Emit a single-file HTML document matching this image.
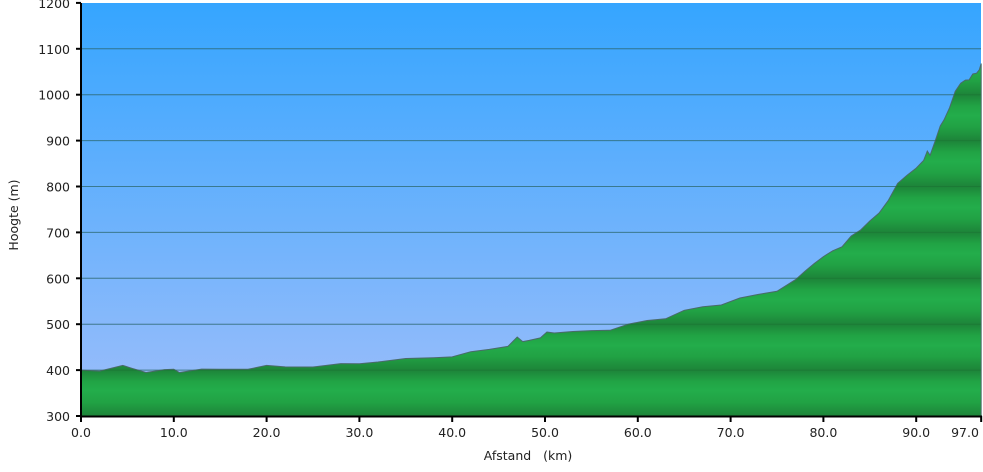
<!DOCTYPE html><html><head><meta charset="utf-8"><style>
body{margin:0;background:#fff;width:983px;height:468px;overflow:hidden;font-family:"DejaVu Sans","Liberation Sans",sans-serif}
svg text{font-family:"DejaVu Sans","Liberation Sans",sans-serif;font-size:12.5px;fill:#222}
</style></head><body>
<svg id="s" width="983" height="468" viewBox="0 0 983 468">
<defs>
<linearGradient id="sky" x1="0" y1="0" x2="0" y2="1"><stop offset="0" stop-color="#35a5ff"/><stop offset="1" stop-color="#9ebefa"/></linearGradient>
<linearGradient id="band" x1="0" y1="0" x2="0" y2="1"><stop offset="0" stop-color="#1d8439"/><stop offset="0.25" stop-color="#21a445"/><stop offset="0.45" stop-color="#23ad4b"/><stop offset="0.7" stop-color="#21a244"/><stop offset="1" stop-color="#1d8439"/></linearGradient>
<pattern id="gp" patternUnits="userSpaceOnUse" x="0" y="3" width="983" height="45.9"><rect width="983" height="45.9" fill="url(#band)"/></pattern>
</defs>
<rect x="81" y="3" width="900" height="413" fill="url(#sky)"/>
<g id="grid" stroke="#3a65a0" stroke-width="1" opacity="0.6"></g>
<path id="prof" fill="url(#gp)" stroke="#4a6a6a" stroke-width="1"/>
<g id="grid2" stroke="#1a6a30" stroke-width="1" opacity="0.35"></g>
<line x1="81" y1="3" x2="81" y2="417" stroke="#000" stroke-width="2"/>
<line x1="80" y1="416.5" x2="982" y2="416.5" stroke="#000" stroke-width="2"/>
<g id="ax"></g>
<text x="528" y="460" text-anchor="middle" xml:space="preserve">Afstand   (km)</text>
<text transform="translate(18,215) rotate(-90)" text-anchor="middle">Hoogte (m)</text>
</svg>
<script>
var ns="http://www.w3.org/2000/svg";
function X(k){return 81+k*9.28}function Y(e){return 416-(e-300)*0.459}
var ax=document.getElementById('ax'),g=document.getElementById('grid'),g2=document.getElementById('grid2');
function el(t,a,p,txt){var e=document.createElementNS(ns,t);for(var k in a)e.setAttribute(k,a[k]);if(txt)e.textContent=txt;p.appendChild(e);return e}
for(var v=300;v<=1200;v+=100){var y=Y(v);
 if(v>300&&v<1200){el('line',{x1:81,y1:y,x2:981,y2:y},g);el('line',{x1:81,y1:y,x2:981,y2:y},g2);}
 el('line',{x1:76,y1:y,x2:81,y2:y,stroke:'#000','stroke-width':2},ax);
 el('text',{x:70,y:y+5,'text-anchor':'end'},ax,String(v));}
[0,10,20,30,40,50,60,70,80,90,97].forEach(function(k){var x=X(k);
 el('line',{x1:x,y1:416,x2:x,y2:422,stroke:'#000','stroke-width':2},ax);
 el('text',{x:k==97?965:x,y:437,'text-anchor':'middle'},ax,k.toFixed(1));});
var pts=[[0,400],[2,401],[4.5,408],[5.5,404],[7,398],[9,399],[10,402],[10.6,398],[13,400],[15,402],[18,405],[20,408],[22,407],[25,410],[28,412],[30,414],[32,421],[35,423],[38,427],[40,432],[42,438],[44,445],[46,455],[47,470],[47.6,462],[48.3,468],[49.5,468],[50.2,483],[51,484],[53,482],[55,486],[57,490],[59,498],[61,508],[63,515],[65,528],[67,538],[69,545],[71,555],[73,565],[75,575],[77,595],[78,615],[79,635],[80,645],[81,660],[82,672],[83,690],[84,705],[85,728],[86,740],[87,770],[88,810],[89,822],[90,840],[90.8,860],[91.2,875],[91.5,868],[92,900],[92.6,930],[93,945],[93.6,975],[94.2,1005],[94.8,1025],[95.3,1035],[95.7,1030],[96.1,1045],[96.5,1050],[96.8,1052],[97,1068]];
var d="M"+X(0)+","+Y(300);
pts.forEach(function(p,i){var j=(i%3==1?1.5:(i%3==2?-1:0));d+=" L"+X(p[0]).toFixed(1)+","+(Y(p[1])+j).toFixed(1)});
d+=" L"+X(97)+","+Y(300)+" Z";
document.getElementById('prof').setAttribute('d',d);
</script>
</body></html>
